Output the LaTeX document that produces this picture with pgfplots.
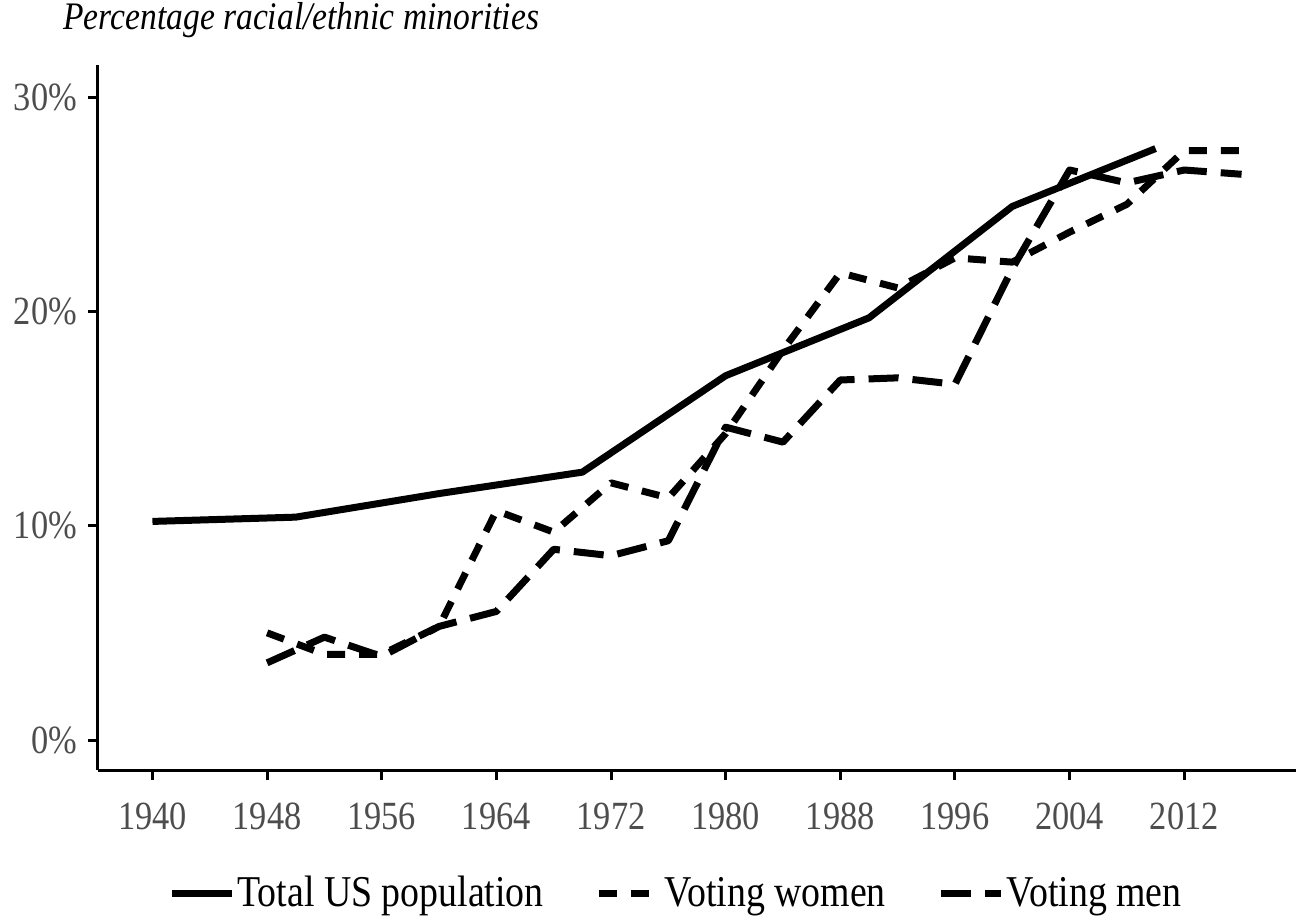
\documentclass[border=0pt]{standalone}
\usepackage{pgfplots}
\pgfplotsset{compat=1.18}
\usepackage{fontspec}
\setmainfont{Liberation Serif}
\newfontfamily\narrowfont[FakeStretch=0.86]{Liberation Serif}
\definecolor{tickgrey}{HTML}{4D4D4D}
\begin{document}
\begin{tikzpicture}
\useasboundingbox (-49bp,-74bp) rectangle (599bp,385bp);
\begin{axis}[
  at={(0,0)}, anchor=south west,
  width=599bp, height=352.5bp, scale only axis,
  xmin=1936.2, xmax=2019.8, ymin=-1.4, ymax=31.5,
  axis x line*=bottom, axis y line*=left,
  axis line style={line width=1.5bp, -},
  xtick={1940,1948,1956,1964,1972,1980,1988,1996,2004,2012},
  xticklabels={1940,1948,1956,1964,1972,1980,1988,1996,2004,2012},
  ytick={0,10,20,30},
  yticklabels={0\%,10\%,20\%,30\%},
  tick style={line width=1.5bp, black},
  tick align=outside, major tick length=5bp,
  ticklabel style={font=\narrowfont\fontsize{20bp}{22bp}\selectfont, text=tickgrey},
  xticklabel style={yshift=-8bp},
  yticklabel style={xshift=-2bp},
  clip=false,
  legend style={at={(0.4825,-0.1745)}, anchor=center, draw=none, fill=none,
    font=\narrowfont\fontsize{22bp}{24bp}\selectfont, legend columns=3,
    /tikz/every even column/.append style={column sep=25bp},
    nodes={inner sep=1bp}},
  legend cell align=left,
  legend image code/.code={\draw[#1] (0bp,0bp) -- (30bp,0bp);},
]
\addplot[black, line width=3.5bp, line join=round] coordinates {
(1940,10.2)(1950,10.4)(1960,11.5)(1970,12.5)(1980,17.0)(1990,19.7)(2000,24.9)(2010,27.6)};
\addlegendentry{Total US population}
\addplot[black, line width=3.5bp, line join=round, dash pattern=on 9bp off 7bp] coordinates {
(1948,5.0)(1952,4.0)(1956,4.0)(1960,5.3)(1964,10.7)(1968,9.7)(1972,12.0)(1976,11.3)(1980,14.3)(1984,18.2)(1988,21.8)(1992,21.1)(1996,22.5)(2000,22.3)(2004,23.7)(2008,25.0)(2012,27.5)(2016,27.5)};
\addlegendentry{Voting women}
\addplot[black, line width=3.5bp, line join=round, dash pattern=on 15bp off 7bp] coordinates {
(1948,3.6)(1952,4.8)(1956,3.9)(1960,5.3)(1964,6.0)(1968,8.9)(1972,8.6)(1976,9.3)(1980,14.6)(1984,13.9)(1988,16.8)(1992,16.9)(1996,16.6)(2000,22.0)(2004,26.6)(2008,26.0)(2012,26.6)(2016,26.4)};
\addlegendentry{Voting men}
\node[anchor=base west, inner sep=0pt, font=\narrowfont\itshape\fontsize{19.5bp}{22bp}\selectfont]
  at ([xshift=-17.5bp, yshift=17.5bp]rel axis cs:0,1) {Percentage racial/ethnic minorities};
\end{axis}
\end{tikzpicture}
\end{document}
